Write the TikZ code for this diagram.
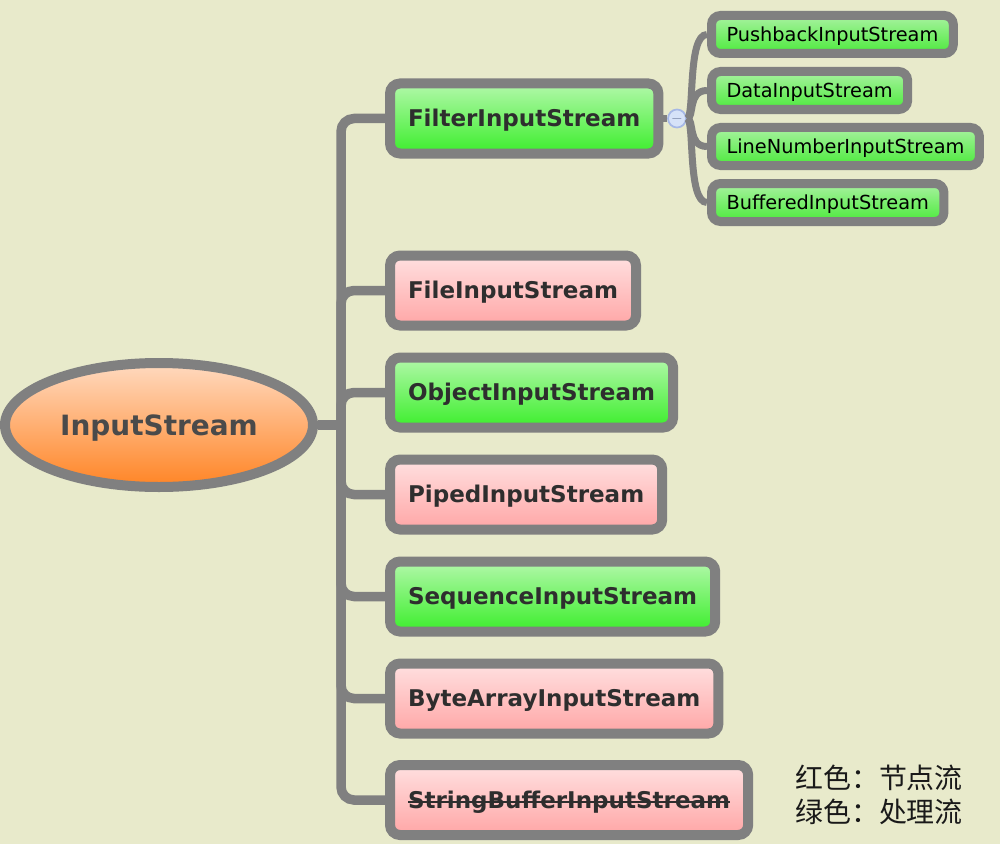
\documentclass[tikz,border=0pt]{standalone}
\usepackage{fontspec}
\setmainfont{DejaVu Sans}
\newfontfamily\cjk{Noto Sans CJK SC}
\usetikzlibrary{shapes.geometric}

\definecolor{bgcol}{HTML}{E8EACB}
\definecolor{linegray}{HTML}{808080}
\definecolor{rootTop}{HTML}{FFDAC0}
\definecolor{rootBot}{HTML}{FF8424}
\definecolor{rootText}{HTML}{4A4A4A}
\definecolor{pinkTop}{HTML}{FFE0E0}
\definecolor{pinkBot}{HTML}{FFA6A6}
\definecolor{greenTop}{HTML}{B2F8AA}
\definecolor{greenBot}{HTML}{3CEE2C}
\definecolor{subTop}{HTML}{A8F2A0}
\definecolor{subBot}{HTML}{4CEA3C}
\definecolor{boxText}{HTML}{2E2E2E}
\definecolor{foldFill}{HTML}{D6E2F8}
\definecolor{foldLine}{HTML}{A6B8E6}

% struck-out text
\newcommand{\strikeout}[1]{{\setbox0\hbox{#1}\rlap{\rule[0.4ex]{\wd0}{1.3pt}}\box0}}

\begin{document}
\begin{tikzpicture}[x=0.2mm,y=-0.2mm,
    root/.style={ellipse, draw=linegray, line width=2mm, top color=rootTop, bottom color=rootBot,
        minimum width=61.6mm, minimum height=24.8mm, inner sep=0pt, text=rootText,
        text height=11.6pt, text depth=0pt, font=\bfseries\fontsize{15.9}{18}\selectfont},
    streambox/.style={rectangle, rounded corners=2mm, draw=linegray, line width=2mm,
        minimum height=14mm, inner xsep=3.6mm, anchor=west, text=boxText,
        text height=9.55pt, text depth=0pt, font=\bfseries\fontsize{13.1}{15}\selectfont},
    pinkbox/.style={streambox, top color=pinkTop, bottom color=pinkBot},
    greenbox/.style={streambox, top color=greenTop, bottom color=greenBot},
    subbox/.style={rectangle, rounded corners=1.8mm, draw=linegray, line width=1.8mm,
        minimum height=7.6mm, inner xsep=3mm, anchor=west, top color=subTop, bottom color=subBot,
        text=black, text height=8pt, text depth=0pt, font=\fontsize{11}{13}\selectfont},
    branch/.style={draw=linegray, line width=1.9mm, rounded corners=2.6mm},
    twig/.style={draw=linegray, line width=1.4mm},
    fold/.style={circle, draw=foldLine, line width=0.35mm, fill=foldFill, minimum size=3.6mm,
        inner sep=0pt, text=foldLine!70!black, font=\fontsize{8}{8}\selectfont}
]
    \useasboundingbox (0,0) rectangle (1000,844);
    \fill[bgcol] (0,0) rectangle (1000,844);
    % Root
    \node[root] (root) at (159,425) {InputStream};
    % Main branches
    \node[greenbox] (filter) at (385,118.5) {FilterInputStream};
    \node[pinkbox]  (file)   at (385,290.5) {FileInputStream};
    \node[greenbox] (object) at (385,392.5) {ObjectInputStream};
    \node[pinkbox]  (piped)  at (385,494.5) {PipedInputStream};
    \node[greenbox] (seq)    at (385,596.5) {SequenceInputStream};
    \node[pinkbox]  (bytes)  at (385,698.5) {ByteArrayInputStream};
    \node[pinkbox]  (strbuf) at (385,800) {\strikeout{StringBufferInputStream}};
    % Filter children
    \node[fold] (fold) at (677,118.5) {$-$};
    \node[subbox] (push)   at (707,34.5)  {PushbackInputStream};
    \node[subbox] (data)   at (707,90.5)  {DataInputStream};
    \node[subbox] (lineno) at (707,146.5) {LineNumberInputStream};
    \node[subbox] (buffer) at (707,202.5) {BufferedInputStream};
    % Connectors
    \coordinate (hub) at (341,425);
    \draw[branch] (root.east) -- (hub);
    \foreach \kid in {filter,file,object,piped,seq,bytes,strbuf}
        \draw[branch] (hub) |- (\kid.west);
    \draw[twig] (filter.east) -- (fold.west);
    \foreach \kid in {push,data,lineno,buffer}
        \draw[twig] (fold.east) .. controls +(8,0) and +(-20,0) .. (\kid.west);
    % Legend
    \node[anchor=west, align=left, font=\cjk\fontsize{15.9}{19.4}\selectfont, text=black!90]
        (legend) at (789,795) {红色：节点流\\绿色：处理流};
\end{tikzpicture}
\end{document}
